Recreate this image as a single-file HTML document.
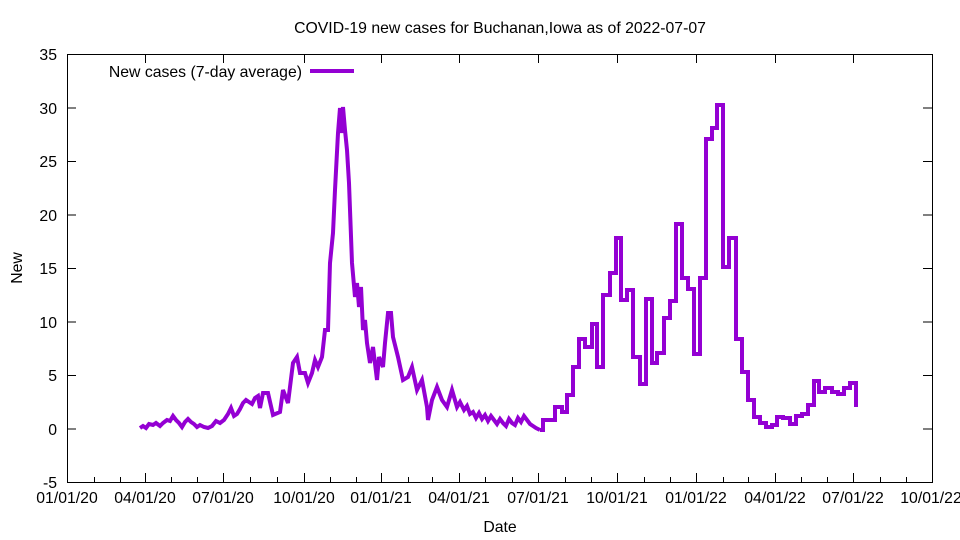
<!DOCTYPE html>
<html><head><meta charset="utf-8"><style>body{margin:0;background:#fff}svg{display:block}text{font-family:"Liberation Sans",sans-serif;font-size:15.8px;fill:#000}</style></head><body>
<svg width="960" height="540" viewBox="0 0 960 540" xmlns="http://www.w3.org/2000/svg">
<rect x="67.5" y="54.5" width="865" height="428" fill="none" stroke="#000" stroke-width="1"/>
<g stroke="#000" stroke-width="1">
<path d="M67 54.5h9M932 54.5h-9M67 108h9M932 108h-9M67 161.5h9M932 161.5h-9M67 215h9M932 215h-9M67 268.5h9M932 268.5h-9M67 322h9M932 322h-9M67 375.5h9M932 375.5h-9M67 429h9M932 429h-9"/>
<path d="M145.5 482v-9M223.5 482v-9M304.5 482v-9M381.5 482v-9M459.5 482v-9M538.5 482v-9M617.5 482v-9M696.5 482v-9M775.5 482v-9M853.5 482v-9M145.5 54v9M223.5 54v9M304.5 54v9M381.5 54v9M459.5 54v9M538.5 54v9M617.5 54v9M696.5 54v9M775.5 54v9M853.5 54v9"/>
<path d="M94.5 482v-5M120.5 482v-5M171.5 482v-5M197.5 482v-5M250.5 482v-5M277.5 482v-5M330.5 482v-5M356.5 482v-5M408.5 482v-5M432.5 482v-5M485.5 482v-5M512.5 482v-5M565.5 482v-5M591.5 482v-5M644.5 482v-5M670.5 482v-5M723.5 482v-5M748.5 482v-5M801.5 482v-5M827.5 482v-5M880.5 482v-5M906.5 482v-5"/>
</g>
<g text-anchor="end">
<text x="57" y="60">35</text><text x="57" y="114">30</text><text x="57" y="167">25</text><text x="57" y="221">20</text><text x="57" y="274">15</text><text x="57" y="328">10</text><text x="57" y="381">5</text><text x="57" y="435">0</text><text x="57" y="488">-5</text>
</g>
<g text-anchor="middle">
<text x="67" y="503">01/01/20</text><text x="145" y="503">04/01/20</text><text x="223" y="503">07/01/20</text><text x="304" y="503">10/01/20</text><text x="381" y="503">01/01/21</text><text x="459" y="503">04/01/21</text><text x="538" y="503">07/01/21</text><text x="617" y="503">10/01/21</text><text x="696" y="503">01/01/22</text><text x="775" y="503">04/01/22</text><text x="853" y="503">07/01/22</text><text x="931" y="503">10/01/22</text>
<text x="500" y="532">Date</text>
<text x="500" y="33">COVID-19 new cases for Buchanan,Iowa as of 2022-07-07</text>
<text transform="translate(22,268) rotate(-90)">New</text>
</g>
<text x="302" y="77" text-anchor="end">New cases (7-day average)</text>
<path d="M310 71H354" stroke="#9400d3" stroke-width="4"/>
<g fill="none" stroke="#9400d3" stroke-width="4" stroke-linejoin="miter">
<polyline points="140,428 143,426 146,428 149,424 153,425 156,423 160,426 163,423 167,420 170,421 173,416 176,420 179,423 182,427 185,422 188,419 191,422 194,424 197,427 200,425 204,427 208,428 212,426 216,421 220,423 224,420 228,414 231,408 234,416 237,414 240,409 243,403 246,400 249,402 252,404 255,398 258,396 260,408 263,393 268,393 273,415 280,412 283,390 288,403 293,363 297,357 300,373 305,373 308,383 312,373 315,360 318,367 322,357 325,330 328,330 330,263 333,233 335,190 338,133 340,108 342,133 343,107 345,130 347,150 349,183 352,263 355,297 357,283 359,307 361,287 363,330 365,320 367,343 370,363 373,347 377,380 379,357 383,367 385,343 388,313 391,313 393,337 398,357 403,380 408,377 412,367 417,390 422,380 427,407 428,420 432,400 437,387 442,400 447,407 452,390 457,407 460,402 464,410 467,406 470,414 473,412 476,418 479,413 482,419 485,415 488,421 491,416 494,420 497,424 500,419 503,423 506,426 509,419 512,423 515,425 518,418 521,422 524,416 527,420 530,424 533,426 536,428 540,430"/>
<path d="M540,430 H543 V420 H555 V407 H562 V412 H567 V395 H573 V367 H579 V339 H585 V347 H592 V324 H597 V367 H603 V295 H610 V273 H616 V238 H621 V300 H627 V290 H633 V357 H640 V384 H646 V299 H652 V363 H657 V353 H664 V318 H670 V301 H676 V224 H682 V278 H688 V289 H694 V354 H700 V278 H706 V139 H712 V128 H717 V105 H723 V267 H729 V238 H736 V339 H742 V372 H748 V400 H754 V417 H760 V423 H766 V427 H772 V425 H777 V417 H783 V418 H790 V424 H796 V416 H802 V414 H808 V405 H814 V381 H819 V392 H825 V388 H832 V392 H838 V394 H844 V388 H850 V383 H856 V407"/>
</g>
</svg>
</body></html>
